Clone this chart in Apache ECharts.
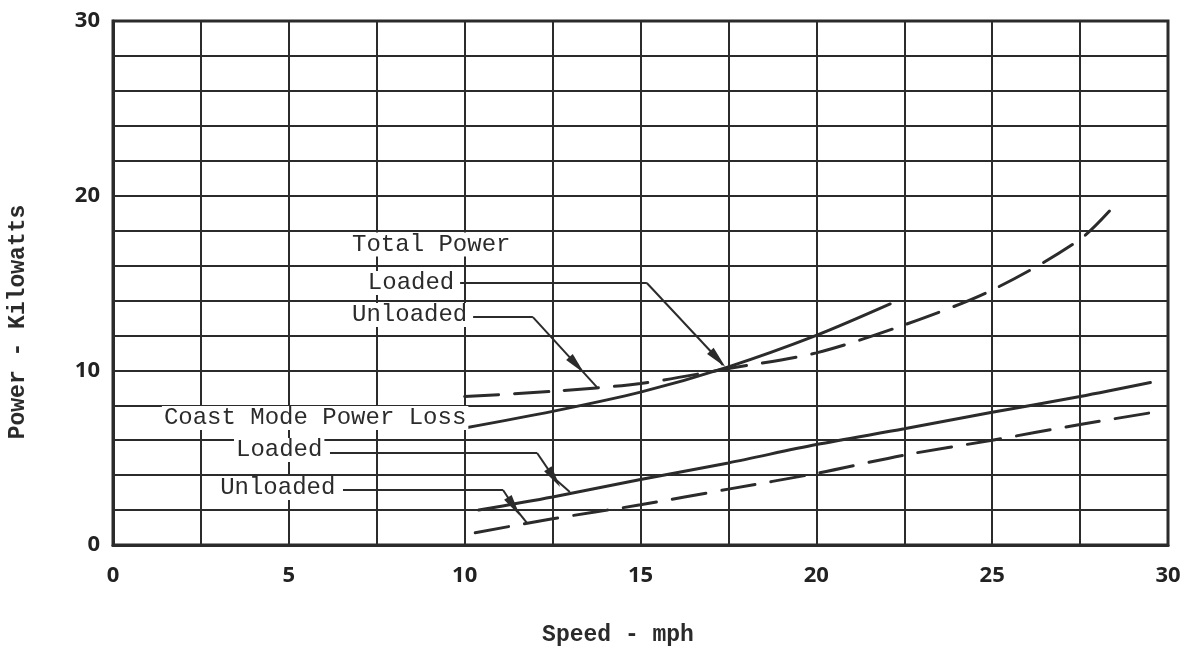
<!DOCTYPE html>
<html>
<head>
<meta charset="utf-8">
<script src="https://cdn.jsdelivr.net/npm/echarts@6/dist/echarts.min.js"></script>
<style>
  html, body { margin: 0; padding: 0; background: #fff; }
  #chart { width: 1194px; height: 654px; }
</style>
</head>
<body>
<div id="chart"></div>
<script>
// Power vs speed: total power and coast-mode power loss, loaded and unloaded.
const speedRange = [0, 30];
const powerRange = [0, 30];
const speedStep = 2.5;   // vertical grid spacing (mph)
const powerStep = 2;     // horizontal grid spacing (kW)
const speedLabelEvery = 5;
const powerLabelEvery = 10;

// [speed mph, power kW]
const totalLoaded = [[10, 6.7], [12.5, 7.65], [15, 8.75], [17.5, 10.2], [20, 12.0], [22.1, 13.8]];
const totalUnloaded = [[10, 8.5], [12.5, 8.8], [15, 9.25], [17.5, 10.1], [20, 11.0], [22.5, 12.6], [25, 14.6], [27.5, 17.5], [28.55, 19.6]];
const coastLoaded = [[10.4, 2.0], [12.5, 2.75], [15, 3.75], [17.5, 4.7], [20, 5.75], [22.5, 6.65], [25, 7.6], [27.5, 8.5], [29.5, 9.3]];
const coastUnloaded = [[10.3, 0.7], [12.5, 1.5], [15, 2.3], [17.5, 3.2], [20, 4.1], [22.5, 5.15], [25, 6.0], [27.5, 6.9], [29.6, 7.6]];

// Annotation text anchors (left edge, vertical middle) in data units
const noteTexts = ['Total Power', 'Loaded', 'Unloaded', 'Coast Mode Power Loss', 'Loaded', 'Unloaded'];
const noteAnchors = [[6.74, 17.2], [7.19, 15.0], [6.74, 13.17], [1.39, 7.27], [3.44, 5.44], [2.99, 3.26]];

// Leader lines: start, elbow, arrowhead point, end on the curve
const leaderPaths = [
  [[9.87, 15.0], [15.18, 15.0], [17.2, 10.65], [17.34, 10.3]],
  [[10.24, 13.05], [11.94, 13.05], [13.19, 10.3], [13.76, 9.04]],
  [[6.17, 5.27], [12.06, 5.27], [12.54, 3.84], [12.99, 3.03]],
  [[6.54, 3.15], [11.09, 3.15], [11.4, 2.2], [11.77, 1.26]]
];

const ink = '#2b2b2b';
const monoFont = '"Liberation Mono", "DejaVu Sans Mono", monospace';

const leaderSegments = [];
leaderPaths.forEach(p => {
  leaderSegments.push([{ coord: p[0], symbol: 'none' }, { coord: p[1], symbol: 'none' }]);
  leaderSegments.push([{ coord: p[1], symbol: 'none' }, { coord: p[2], symbol: 'triangle', symbolSize: [9, 22] }]);
  leaderSegments.push([{ coord: p[2], symbol: 'none' }, { coord: p[3], symbol: 'none' }]);
});

function curve(name, data, dashed) {
  return {
    name, type: 'line', data, smooth: 0.3, symbol: 'none', silent: true, z: 5,
    lineStyle: { color: ink, width: 3, type: dashed ? [34, 16] : 'solid', cap: 'round' }
  };
}

const chart = echarts.init(document.getElementById('chart'), null, { renderer: 'canvas' });

const tickFont = { color: '#222', fontFamily: '"Open Sans", sans-serif', fontWeight: 'bold', fontSize: 22 };

chart.setOption({
  animation: false,
  backgroundColor: '#fff',
  grid: { left: 113, right: 26, top: 21, bottom: 109, show: true, borderColor: ink, borderWidth: 3, backgroundColor: '#fff' },
  xAxis: {
    type: 'value', min: speedRange[0], max: speedRange[1], interval: speedStep,
    axisLine: { show: true, lineStyle: { color: ink, width: 3 } },
    axisTick: { show: false },
    splitLine: { show: true, lineStyle: { color: ink, width: 2 } },
    axisLabel: Object.assign({ margin: 20, formatter: v => (v % speedLabelEvery === 0 ? String(v) : '') }, tickFont)
  },
  yAxis: {
    type: 'value', min: powerRange[0], max: powerRange[1], interval: powerStep,
    axisLine: { show: true, lineStyle: { color: ink, width: 3 } },
    axisTick: { show: false },
    splitLine: { show: true, lineStyle: { color: ink, width: 2 } },
    axisLabel: Object.assign({ margin: 13, formatter: v => (v % powerLabelEvery === 0 ? String(v) : '') }, tickFont)
  },
  series: [
    curve('Total Power Loaded', totalLoaded, false),
    curve('Total Power Unloaded', totalUnloaded, true),
    curve('Coast Mode Loaded', coastLoaded, false),
    curve('Coast Mode Unloaded', coastUnloaded, true),
    {
      name: 'leaders', type: 'line', data: [], silent: true, z: 6,
      markLine: {
        silent: true, animation: false, symbol: ['none', 'none'],
        label: { show: false },
        lineStyle: { color: ink, width: 2, type: 'solid' },
        emphasis: { disabled: true },
        data: leaderSegments
      }
    }
  ]
});

// Annotation texts and axis titles
const graphics = noteTexts.map((t, i) => {
  const [px, py] = chart.convertToPixel({ gridIndex: 0 }, noteAnchors[i]);
  return {
    type: 'text', x: px, y: py, z: 10,
    style: {
      text: t, font: '24px ' + monoFont, fill: ink,
      textAlign: 'left', textVerticalAlign: 'middle',
      backgroundColor: '#fff', padding: [0, 2]
    }
  };
});
graphics.push({
  type: 'text', x: 618, y: 635, z: 10,
  style: { text: 'Speed - mph', font: 'bold 23px ' + monoFont, fill: ink, textAlign: 'center', textVerticalAlign: 'middle' }
});
graphics.push({
  type: 'text', x: 18, y: 322, rotation: Math.PI / 2, z: 10,
  style: { text: 'Power - Kilowatts', font: 'bold 23px ' + monoFont, fill: ink, textAlign: 'center', textVerticalAlign: 'middle' }
});
chart.setOption({ graphic: graphics });
</script>
</body>
</html>
